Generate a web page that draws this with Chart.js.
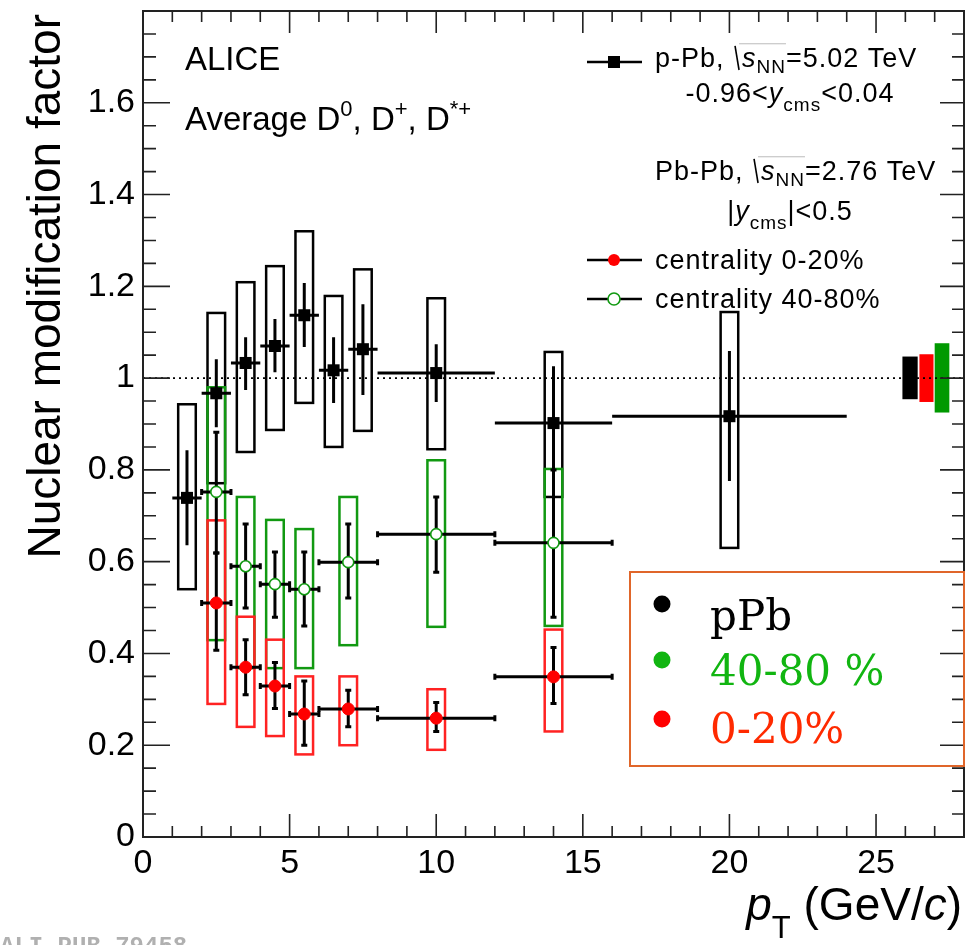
<!DOCTYPE html>
<html>
<head>
<meta charset="utf-8">
<title>D meson nuclear modification factor</title>
<script src="https://cdn.jsdelivr.net/npm/chart.js@4.4.0/dist/chart.umd.min.js"></script>
<style>
  html, body { margin: 0; padding: 0; background: #fff; }
  #wrap { width: 975px; height: 945px; }
</style>
</head>
<body>
<div id="wrap"><canvas id="raa" width="975" height="945"></canvas></div>
<script>
// p-Pb, sqrt(sNN) = 5.02 TeV
const ppbX      = [1.5, 2.5, 3.5, 4.5, 5.5, 6.5, 7.5, 10, 14, 20];
const ppbXLow   = [1, 2, 3, 4, 5, 6, 7, 8, 12, 16];
const ppbXHigh  = [2, 3, 4, 5, 6, 7, 8, 12, 16, 24];
const ppbY      = [0.739, 0.967, 1.033, 1.070, 1.137, 1.017, 1.063, 1.011, 0.902, 0.917];
const ppbStatLo = [0.636, 0.893, 0.974, 1.013, 1.068, 0.946, 0.963, 0.948, 0.780, 0.776];
const ppbStatHi = [0.843, 1.041, 1.089, 1.129, 1.207, 1.089, 1.161, 1.074, 1.026, 1.059];
const ppbSystLo = [0.540, 0.771, 0.839, 0.887, 0.946, 0.850, 0.885, 0.845, 0.741, 0.630];
const ppbSystHi = [0.943, 1.142, 1.209, 1.244, 1.320, 1.179, 1.237, 1.174, 1.057, 1.144];

// Pb-Pb, sqrt(sNN) = 2.76 TeV, both centrality classes share the binning
const pbpbX     = [2.5, 3.5, 4.5, 5.5, 7, 10, 14];
const pbpbXLow  = [2, 3, 4, 5, 6, 8, 12];
const pbpbXHigh = [3, 4, 5, 6, 8, 12, 16];

// centrality 40-80%
const periY      = [0.752, 0.590, 0.551, 0.540, 0.599, 0.660, 0.641];
const periStatLo = [0.619, 0.499, 0.479, 0.460, 0.521, 0.577, 0.479];
const periStatHi = [0.882, 0.682, 0.621, 0.621, 0.682, 0.741, 0.800];
const periSystLo = [0.429, 0.368, 0.368, 0.368, 0.418, 0.458, 0.460];
const periSystHi = [0.980, 0.741, 0.691, 0.671, 0.741, 0.821, 0.802];

// centrality 0-20%
const centY      = [0.510, 0.370, 0.329, 0.268, 0.279, 0.259, 0.349];
const centStatLo = [0.407, 0.310, 0.280, 0.200, 0.240, 0.230, 0.291];
const centStatHi = [0.619, 0.430, 0.380, 0.340, 0.320, 0.293, 0.413];
const centSystLo = [0.290, 0.240, 0.220, 0.180, 0.200, 0.190, 0.230];
const centSystHi = [0.690, 0.480, 0.430, 0.350, 0.350, 0.322, 0.452];

// normalisation uncertainties drawn at unity (pPb, 0-20%, 40-80%)
const normXLow  = [25.9, 26.48, 27.0];
const normXHigh = [26.42, 26.96, 27.5];
const normLo    = [0.954, 0.948, 0.925];
const normHi    = [1.047, 1.052, 1.076];
const normFill  = ['#000000', '#ff0000', '#009900'];

const xTickLabels = [0, 5, 10, 15, 20, 25];
const yTickLabels = [0, 0.2, 0.4, 0.6, 0.8, 1, 1.2, 1.4, 1.6];

const GREEN = '#119911';
const RED = '#ff2222';
const SANS = '"Liberation Sans", Arial, Helvetica, sans-serif';

function pts(xs, ys) {
    return xs.map((x, i) => ({ x: x, y: ys[i] }));
}

// draw text pieces one after another (super/subscripts, italics)
function rich(ctx, x, y, parts, align) {
    let widths = parts.map(p => {
        ctx.font = (p.it ? 'italic ' : '') + p.size + 'px ' + SANS;
        return ctx.measureText(p.t).width + (p.gap || 0);
    });
    let total = widths.reduce((a, b) => a + b, 0);
    if (align === 'right') x -= total;
    if (align === 'center') x -= total / 2;
    let starts = [];
    parts.forEach((p, i) => {
        starts.push(x);
        ctx.font = (p.it ? 'italic ' : '') + p.size + 'px ' + SANS;
        ctx.fillText(p.t, x + (p.gap || 0), y + (p.dy || 0));
        x += widths[i];
    });
    starts.push(x);
    return starts;
}

function sqrtSign(ctx, x0, x1, base, size) {
    ctx.save();
    ctx.strokeStyle = '#000';
    ctx.lineWidth = 1.6;
    ctx.beginPath();
    ctx.moveTo(x0 + 2, base - size * 0.78);
    ctx.lineTo(x0 + 6, base + 3);
    ctx.stroke();
    ctx.strokeStyle = '#bbbbbb';
    ctx.lineWidth = 1;
    ctx.beginPath();
    ctx.moveTo(x0 + 6, base - size * 0.86);
    ctx.lineTo(x1, base - size * 0.86);
    ctx.stroke();
    ctx.restore();
}

const rootStyle = {
    id: 'rootStyle',
    beforeDatasetsDraw(chart) {
        const ctx = chart.ctx;
        const xs = chart.scales.x, ys = chart.scales.y;
        const area = chart.chartArea;
        const X = v => xs.getPixelForValue(v);
        const Y = v => ys.getPixelForValue(v);
        ctx.save();

        // normalisation boxes
        for (let i = 0; i < normFill.length; i++) {
            ctx.fillStyle = normFill[i];
            ctx.fillRect(X(normXLow[i]), Y(normHi[i]), X(normXHigh[i]) - X(normXLow[i]), Y(normLo[i]) - Y(normHi[i]));
        }

        // dotted line at unity
        ctx.strokeStyle = '#000';
        ctx.lineWidth = 1.6;
        ctx.setLineDash([2, 4]);
        ctx.beginPath();
        ctx.moveTo(area.left, Y(1));
        ctx.lineTo(area.right, Y(1));
        ctx.stroke();
        ctx.setLineDash([]);

        // systematic boxes, +-0.3 GeV/c wide
        function boxes(xv, lo, hi, color) {
            ctx.strokeStyle = color;
            ctx.lineWidth = 2.5;
            xv.forEach((x, i) => {
                ctx.strokeRect(X(x - 0.3), Y(hi[i]), X(x + 0.3) - X(x - 0.3), Y(lo[i]) - Y(hi[i]));
            });
        }
        boxes(ppbX, ppbSystLo, ppbSystHi, '#000');
        boxes(pbpbX, periSystLo, periSystHi, GREEN);
        boxes(pbpbX, centSystLo, centSystHi, RED);

        // statistical errors and bin widths
        function bars(xv, xl, xh, yv, lo, hi, caps) {
            ctx.strokeStyle = '#000';
            ctx.lineWidth = 3;
            xv.forEach((x, i) => {
                ctx.beginPath();
                ctx.moveTo(X(xl[i]), Y(yv[i]));
                ctx.lineTo(X(xh[i]), Y(yv[i]));
                ctx.moveTo(X(x), Y(lo[i]));
                ctx.lineTo(X(x), Y(hi[i]));
                if (caps) {
                    ctx.moveTo(X(x) - 3, Y(lo[i])); ctx.lineTo(X(x) + 3, Y(lo[i]));
                    ctx.moveTo(X(x) - 3, Y(hi[i])); ctx.lineTo(X(x) + 3, Y(hi[i]));
                    ctx.moveTo(X(xl[i]), Y(yv[i]) - 3); ctx.lineTo(X(xl[i]), Y(yv[i]) + 3);
                    ctx.moveTo(X(xh[i]), Y(yv[i]) - 3); ctx.lineTo(X(xh[i]), Y(yv[i]) + 3);
                }
                ctx.stroke();
            });
        }
        bars(ppbX, ppbXLow, ppbXHigh, ppbY, ppbStatLo, ppbStatHi, false);
        bars(pbpbX, pbpbXLow, pbpbXHigh, periY, periStatLo, periStatHi, true);
        bars(pbpbX, pbpbXLow, pbpbXHigh, centY, centStatLo, centStatHi, true);
        ctx.restore();
    },
    afterDraw(chart) {
        const ctx = chart.ctx;
        const xs = chart.scales.x, ys = chart.scales.y;
        const a = chart.chartArea;
        ctx.save();

        // frame and inward ticks on all four sides
        ctx.strokeStyle = '#222';
        ctx.lineWidth = 2;
        ctx.strokeRect(a.left, a.top, a.right - a.left, a.bottom - a.top);
        ctx.lineWidth = 1.6;
        ctx.beginPath();
        for (let k = 1; k < 28; k++) {
            const px = xs.getPixelForValue(k);
            const major = k % 5 === 0;
            ctx.moveTo(px, a.bottom); ctx.lineTo(px, a.bottom - (major ? 23 : 11));
            ctx.moveTo(px, a.top); ctx.lineTo(px, a.top + (major ? 22 : 11));
        }
        for (let k = 1; k < 36; k++) {
            const py = ys.getPixelForValue(k * 0.05);
            const major = k % 4 === 0;
            ctx.moveTo(a.left, py); ctx.lineTo(a.left + (major ? 27 : 13), py);
            ctx.moveTo(a.right, py); ctx.lineTo(a.right - (major ? 24 : 12), py);
        }
        ctx.stroke();

        ctx.fillStyle = '#000';
        ctx.textBaseline = 'alphabetic';

        // axis titles
        ctx.save();
        ctx.translate(60, 14);
        ctx.rotate(-Math.PI / 2);
        ctx.textAlign = 'right';
        ctx.font = '46px ' + SANS;
        ctx.fillText('Nuclear modification factor', 0, 0);
        ctx.restore();
        ctx.textAlign = 'left';
        rich(ctx, 962, 920, [
            { t: 'p', size: 46, it: true },
            { t: 'T', size: 31, dy: 18 },
            { t: ' (GeV/', size: 46 },
            { t: 'c', size: 46, it: true },
            { t: ')', size: 46 }
        ], 'right');

        // ALICE labels
        ctx.font = '33px ' + SANS;
        ctx.fillText('ALICE', 185, 70);
        rich(ctx, 185, 130, [
            { t: 'Average D', size: 33 },
            { t: '0', size: 22, dy: -14 },
            { t: ', D', size: 33 },
            { t: '+', size: 22, dy: -14 },
            { t: ', D', size: 33 },
            { t: '*+', size: 22, dy: -14 }
        ]);

        // top right legend
        ctx.strokeStyle = '#000';
        ctx.lineWidth = 2.5;
        ctx.beginPath();
        ctx.moveTo(587, 62); ctx.lineTo(642, 62);
        ctx.moveTo(587, 260); ctx.lineTo(642, 260);
        ctx.moveTo(587, 299); ctx.lineTo(642, 299);
        ctx.stroke();
        ctx.fillRect(608, 56, 12, 12);
        ctx.fillStyle = '#ff0000';
        ctx.beginPath(); ctx.arc(614, 260, 6, 0, Math.PI * 2); ctx.fill();
        ctx.fillStyle = '#fff';
        ctx.strokeStyle = GREEN;
        ctx.lineWidth = 1.6;
        ctx.beginPath(); ctx.arc(614, 299, 6, 0, Math.PI * 2); ctx.fill(); ctx.stroke();
        ctx.fillStyle = '#000';

        const fs = 27;
        ctx.letterSpacing = '1px';
        let s = rich(ctx, 655, 67, [
            { t: 'p-Pb, ', size: fs },
            { t: 's', size: fs, it: true, gap: 9 },
            { t: 'NN', size: 19, dy: 6 },
            { t: '=5.02 TeV', size: fs }
        ]);
        sqrtSign(ctx, s[1], s[3], 67, fs);
        rich(ctx, 790, 102, [
            { t: '-0.96<', size: fs },
            { t: 'y', size: fs, it: true },
            { t: 'cms', size: 19, dy: 9 },
            { t: '<0.04', size: fs }
        ], 'center');
        s = rich(ctx, 655, 180, [
            { t: 'Pb-Pb, ', size: fs },
            { t: 's', size: fs, it: true, gap: 9 },
            { t: 'NN', size: 19, dy: 6 },
            { t: '=2.76 TeV', size: fs }
        ]);
        sqrtSign(ctx, s[1], s[3], 180, fs);
        rich(ctx, 790, 220, [
            { t: '|', size: fs },
            { t: 'y', size: fs, it: true },
            { t: 'cms', size: 19, dy: 9 },
            { t: '|<0.5', size: fs }
        ], 'center');
        ctx.font = fs + 'px ' + SANS;
        ctx.fillText('centrality 0-20%', 655, 269);
        ctx.fillText('centrality 40-80%', 655, 308);
        ctx.letterSpacing = '0px';

        // boxed colour key
        ctx.strokeStyle = '#e0662a';
        ctx.lineWidth = 2;
        ctx.strokeRect(630, 572, 334, 194);
        const keyText = ['pPb', '40-80 %', '0-20%'];
        const keyDot = ['#000000', '#11b511', '#ff0000'];
        const keyCol = ['#000000', '#11b511', '#ff2a00'];
        const keyDotY = [604, 660, 719];
        const keyBase = [630, 685, 743];
        ctx.font = '42px "DejaVu Serif", serif';
        for (let i = 0; i < 3; i++) {
            ctx.fillStyle = keyDot[i];
            ctx.beginPath(); ctx.arc(662, keyDotY[i], 8.5, 0, Math.PI * 2); ctx.fill();
            ctx.fillStyle = keyCol[i];
            ctx.fillText(keyText[i], 710, keyBase[i]);
        }

        // publication tag, cut by the page edge
        ctx.fillStyle = '#b0b0b0';
        ctx.font = 'bold 24px "Liberation Mono", "DejaVu Sans Mono", monospace';
        ctx.fillText('ALI-PUB-79458', 0, 953);
        ctx.restore();
    }
};

const ctx = document.getElementById('raa').getContext('2d');
new Chart(ctx, {
    type: 'scatter',
    data: {
        datasets: [
            {
                label: 'p-Pb',
                data: pts(ppbX, ppbY),
                pointStyle: 'rect',
                pointRadius: 8.5,
                backgroundColor: '#000',
                borderColor: '#000',
                borderWidth: 0
            },
            {
                label: 'centrality 40-80%',
                data: pts(pbpbX, periY),
                pointStyle: 'circle',
                pointRadius: 5.5,
                backgroundColor: '#fff',
                borderColor: GREEN,
                borderWidth: 1.6
            },
            {
                label: 'centrality 0-20%',
                data: pts(pbpbX, centY),
                pointStyle: 'circle',
                pointRadius: 6,
                backgroundColor: '#ff0000',
                borderColor: '#ff0000',
                borderWidth: 1
            }
        ]
    },
    options: {
        responsive: false,
        animation: false,
        devicePixelRatio: 1,
        layout: { padding: { left: 0, top: 11, right: 11, bottom: 0 } },
        plugins: { legend: { display: false }, tooltip: { enabled: false } },
        scales: {
            x: {
                type: 'linear',
                min: 0,
                max: 28,
                grid: { display: false, drawTicks: false },
                border: { display: false },
                afterFit: s => { s.height = 108; s.paddingLeft = 0; s.paddingRight = 0; },
                ticks: {
                    stepSize: 5,
                    autoSkip: false,
                    maxRotation: 0,
                    padding: 6,
                    color: '#000',
                    font: { family: SANS, size: 34 },
                    callback: v => (xTickLabels.includes(v) ? String(v) : '')
                }
            },
            y: {
                type: 'linear',
                min: 0,
                max: 1.8,
                grid: { display: false, drawTicks: false },
                border: { display: false },
                afterFit: s => { s.width = 143; s.paddingTop = 0; s.paddingBottom = 0; },
                ticks: {
                    stepSize: 0.2,
                    autoSkip: false,
                    padding: 8,
                    color: '#000',
                    font: { family: SANS, size: 34 },
                    callback: v => {
                        const r = Math.round(v * 10) / 10;
                        return yTickLabels.includes(r) ? String(r) : '';
                    }
                }
            }
        }
    },
    plugins: [rootStyle]
});
</script>
</body>
</html>
